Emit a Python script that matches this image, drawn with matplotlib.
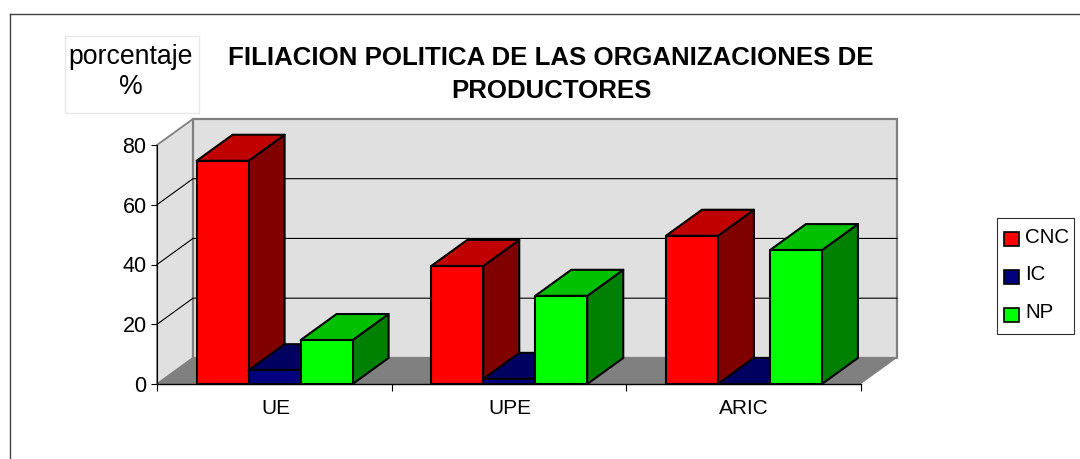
import matplotlib
matplotlib.use("Agg")
import matplotlib.pyplot as plt
from matplotlib.lines import Line2D
from matplotlib.patches import Polygon, Rectangle

plt.rcParams["font.family"] = ["Liberation Sans", "DejaVu Sans"]

categories = ["UE", "UPE", "ARIC"]
series_names = ["CNC", "IC", "NP"]
cnc = [74.7, 39.5, 49.6]
ic = [4.6, 1.7, 0]
np_values = [14.7, 29.5, 44.8]
yticks = [0, 20, 40, 60, 80]

W, H = 1080, 459
DEPTH_X = 36 / 234.67   # 3d offset in category units
DEPTH_Y = 26 / 2.98     # 3d offset in value units
BAR_W = 52 / 234.67
BAR_PAD = 39.6 / 234.67

colors = {
    "CNC": ("#ff0000", "#c00000", "#800000"),
    "IC": ("#000080", "#000060", "#000040"),
    "NP": ("#00ff00", "#00c000", "#008000"),
}


def fig_x(px):
    return px / W


def fig_y(px):
    return 1 - px / H


def draw_walls(ax):
    wall = "#e0e0e0"
    edge = "#808080"
    ax.add_patch(Polygon([(0, 0), (DEPTH_X, DEPTH_Y), (3 + DEPTH_X, DEPTH_Y), (3, 0)],
                         fc=edge, ec="none", clip_on=False, zorder=1))
    ax.add_patch(Polygon([(0, 0), (DEPTH_X, DEPTH_Y), (DEPTH_X, 80 + DEPTH_Y), (0, 80)],
                         fc=wall, ec=edge, lw=1.3, clip_on=False, zorder=1))
    ax.add_patch(Rectangle((DEPTH_X, DEPTH_Y), 3, 80, fc=wall, ec=edge, lw=1.6, clip_on=False, zorder=1))
    for v in yticks[1:-1]:
        ax.plot([0, DEPTH_X, 3 + DEPTH_X], [v, v + DEPTH_Y, v + DEPTH_Y], color="black", lw=0.8,
                clip_on=False, zorder=2)


def draw_bar(ax, x, value, name):
    front, top, side = colors[name]
    style = dict(ec="black", lw=1.5, joinstyle="round", clip_on=False, zorder=3)
    x2 = x + BAR_W
    ax.add_patch(Polygon([(x2, 0), (x2 + DEPTH_X, DEPTH_Y), (x2 + DEPTH_X, value + DEPTH_Y), (x2, value)],
                         fc=side, **style))
    ax.add_patch(Polygon([(x, value), (x + DEPTH_X, value + DEPTH_Y), (x2 + DEPTH_X, value + DEPTH_Y), (x2, value)],
                         fc=top, **style))
    if value > 0:
        ax.add_patch(Rectangle((x, 0), BAR_W, value, fc=front, **style))


fig = plt.figure(figsize=(W / 100, H / 100), dpi=100)
ax = fig.add_axes([fig_x(157), fig_y(384), 704 / W, 239 / H])
ax.set_xlim(0, 3)
ax.set_ylim(0, 80)
ax.patch.set_visible(False)
for s in ["top", "right"]:
    ax.spines[s].set_visible(False)
ax.spines["left"].set_linewidth(0.8)
ax.spines["bottom"].set_linewidth(1.0)
ax.spines["left"].set_zorder(2)
ax.spines["bottom"].set_zorder(2)

draw_walls(ax)
for i in range(len(categories)):
    for j, vals in enumerate([cnc, ic, np_values]):
        draw_bar(ax, i + BAR_PAD + j * BAR_W, vals[i], series_names[j])

ax.set_yticks(yticks)
ax.tick_params(axis="y", labelsize=15.5, length=4, width=0.8, pad=3.5)
ax.set_xticks([0, 1, 2, 3])
ax.set_xticklabels([])
ax.set_xticks([0.507, 1.505, 2.5], minor=True)
ax.set_xticklabels(categories, minor=True)
ax.tick_params(axis="x", which="major", length=5, width=0.8)
ax.tick_params(axis="x", which="minor", length=0, labelsize=15, pad=11)

# outer frame, only top and left fall inside the picture
fig.add_artist(Line2D([fig_x(10), fig_x(1080)], [fig_y(14), fig_y(14)], color="#404040", lw=1.0))
fig.add_artist(Line2D([fig_x(10), fig_x(10)], [fig_y(14), fig_y(459)], color="#404040", lw=1.0))

# y title box
fig.add_artist(Rectangle((fig_x(65), fig_y(113)), 134 / W, 77 / H, fc="white", ec="#e8e8e8", lw=1.0,
                         transform=fig.transFigure))
fig.text(fig_x(130.5), fig_y(57), "porcentaje", fontsize=19.2, ha="center", va="center")
fig.text(fig_x(131), fig_y(87), "%", fontsize=19.2, ha="center", va="center")

fig.text(fig_x(551), fig_y(58), "FILIACION POLITICA DE LAS ORGANIZACIONES DE", fontsize=18.6, fontweight="bold",
         ha="center", va="center")
fig.text(fig_x(551), fig_y(91), "PRODUCTORES", fontsize=18.6, fontweight="bold", ha="center", va="center")

# legend
fig.add_artist(Rectangle((fig_x(997), fig_y(334)), 77 / W, 116 / H, fc="white", ec="#303030", lw=0.8,
                         transform=fig.transFigure))
for name, y in zip(series_names, [239, 277, 315]):
    fig.add_artist(Rectangle((fig_x(1004), fig_y(y + 7)), 15 / W, 14 / H, fc=colors[name][0], ec="black", lw=1.2,
                             transform=fig.transFigure))
    fig.text(fig_x(1025), fig_y(y - 2), name, fontsize=14.8, ha="left", va="center")

fig.savefig("out.png", dpi=100)
